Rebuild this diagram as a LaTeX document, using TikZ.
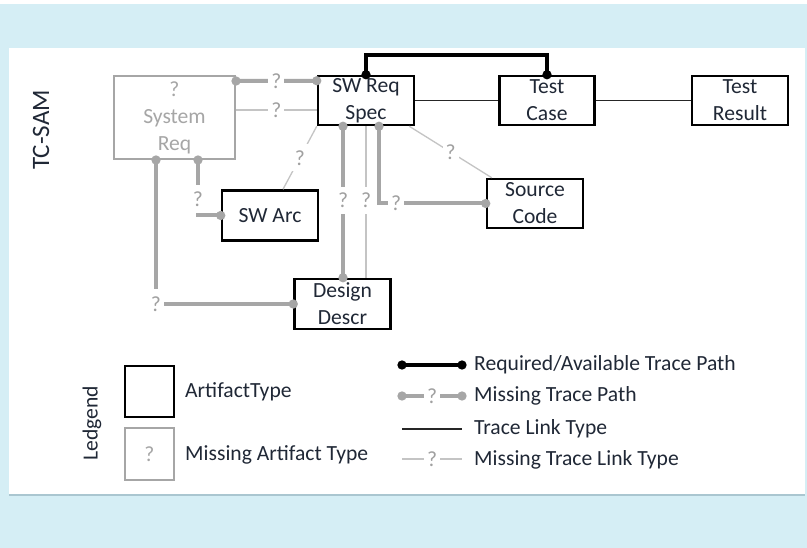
\documentclass[tikz,border=0pt]{standalone}
\usepackage{fontspec}
\setmainfont{Carlito}
\usetikzlibrary{arrows.meta}
\definecolor{bgblue}{RGB}{213,238,245}
\definecolor{panelline}{RGB}{170,198,208}
\definecolor{textc}{RGB}{32,40,54}
\definecolor{missgrey}{RGB}{166,166,166}
\definecolor{qgrey}{RGB}{160,160,160}
\definecolor{lightgrey}{RGB}{196,196,196}
\tikzset{
  base/.style={font=\fontsize{21.6bp}{27bp}\selectfont},
  art/.style={draw=black, line width=2.5bp, minimum width=96bp, minimum height=49bp,
    inner sep=0pt, align=center, text=textc, fill=white},
  missart/.style={art, draw=missgrey, line width=2bp, text=missgrey},
  tlink/.style={draw=black!85, line width=1.5bp},
  mlink/.style={draw=lightgrey, line width=1.3bp},
  dotends/.style={{Circle[length=9bp,width=9bp]}-{Circle[length=9bp,width=9bp]},
    shorten <=-4.5bp, shorten >=-4.5bp},
  tpath/.style={draw=black, line width=4bp, dotends},
  mpath/.style={draw=missgrey, line width=4bp, dotends},
  qmark/.style={fill=white, text=qgrey, inner xsep=3bp, inner ysep=6bp},
  legtext/.style={anchor=west, text=textc, inner sep=0pt}
}
\begin{document}
\begin{tikzpicture}[x=1bp, y=-1bp, base]
\useasboundingbox (0,0) rectangle (807,548);
% background and panel
\fill[bgblue] (0,4) rectangle (807,548);
\fill[white] (9,48) rectangle (805,495);
\draw[panelline, line width=1.5bp] (9,495) -- (805,495);

% side titles
\node[rotate=90, text=textc, font=\fontsize{25bp}{30bp}\selectfont] (title) at (41,130) {TC-SAM};
\node[rotate=90, text=textc] (legtitle) at (92,423) {Ledgend};

% artifact types
\node[missart, minimum width=121bp, minimum height=83bp] (sysreq) at (174.5,117.5) {?\\System\\Req};
\node[art] (swreq) at (366,100.5) {SW Req\\Spec};
\node[art, minimum width=95bp] (testcase) at (547,100.5) {Test\\Case};
\node[art] (testresult) at (740,100.5) {Test\\Result};
\node[art, minimum height=50bp] (swarc) at (270,215.5) {SW Arc};
\node[art] (source) at (535,203.5) {Source\\Code};
\node[art, minimum height=50bp] (design) at (342.5,304) {Design\\Descr};

% trace links
\draw[tlink] (swreq) -- (testcase);
\draw[tlink] (testcase) -- (testresult);
\draw[mlink] (sysreq.east |- 0,110) -- node[qmark]{?} (swreq.west |- 0,110);
\draw[mlink] (swreq.south west) -- node[qmark]{?} ([xshift=13bp]swarc.north);
\draw[mlink] ([xshift=-6bp]swreq.south east) -- node[qmark]{?} ([xshift=6bp]source.north west);
\draw[mlink] (swreq.south) -- node[qmark, pos=0.49]{?} (design.north -| swreq.south);

% trace paths
\draw[tpath] (swreq.north) -- ++(0,-20) -| (testcase.north);
\draw[mpath] ([yshift=-6bp]sysreq.north east) -- node[qmark]{?} ([yshift=-6bp]swreq.north west);
\draw[mpath] (swreq.south -| 343,0) -- node[qmark, pos=0.49]{?} (design.north -| 343,0);
\draw[mpath] (swreq.south -| 379,0) |- node[qmark, pos=0.58]{?} (source.west);
\draw[mpath] (sysreq.south -| 198,0) |- node[qmark, pos=0.354, minimum height=28bp]{?} (swarc.west);
\draw[mpath] (sysreq.south -| 156,0) |- node[qmark, pos=0.5, minimum height=30bp]{?} (design.west);

% legend: artifact boxes
\node[art, minimum width=49bp, minimum height=51bp] (legart) at (149.5,391.5) {};
\node[missart, minimum width=49bp, minimum height=52bp] (legmiss) at (149.5,454) {?};
\node[legtext] (legarttxt) at (185,392) {ArtifactType};
\node[legtext] (legmisstxt) at (185,455) {Missing Artifact Type};

% legend: connector kinds
\coordinate (l1a) at (402,365); \coordinate (l1b) at (462,365);
\coordinate (l2a) at (402,396); \coordinate (l2b) at (462,396);
\coordinate (l3a) at (402,429); \coordinate (l3b) at (462,429);
\coordinate (l4a) at (402,459); \coordinate (l4b) at (462,459);
\draw[tpath] (l1a) -- (l1b);
\draw[mpath] (l2a) -- node[qmark]{?} (l2b);
\draw[tlink] (l3a) -- (l3b);
\draw[mlink] (l4a) -- node[qmark]{?} (l4b);
\node[legtext] (t1) at (474,365) {Required/Available Trace Path};
\node[legtext] (t2) at (474,396) {Missing Trace Path};
\node[legtext] (t3) at (474,429) {Trace Link Type};
\node[legtext] (t4) at (474,460) {Missing Trace Link Type};
\end{tikzpicture}
\end{document}
